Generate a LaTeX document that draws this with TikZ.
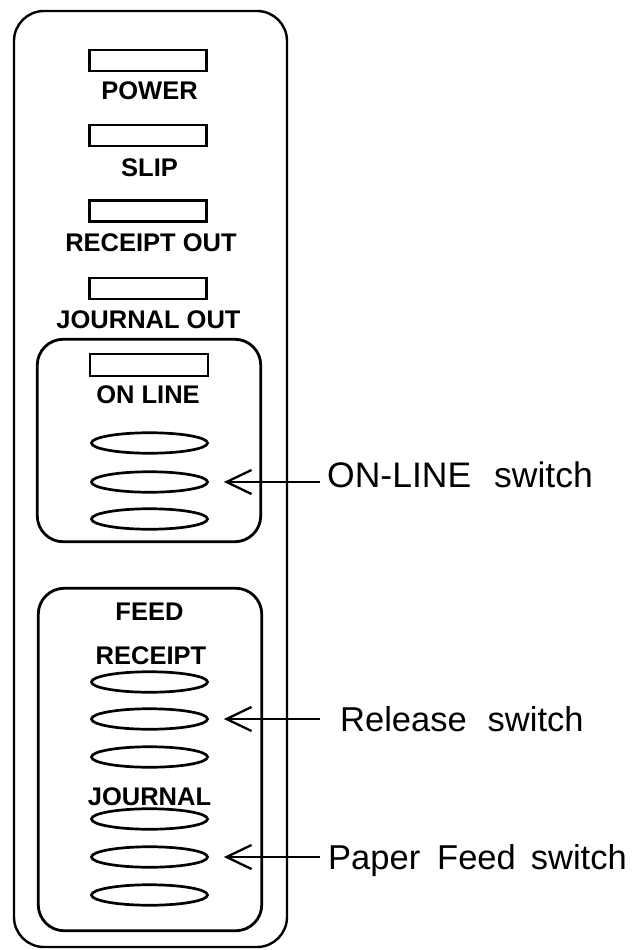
\documentclass[tikz,border=0pt]{standalone}
\usepackage{fontspec}
\setmainfont{Liberation Sans}
\usetikzlibrary{shapes.geometric,arrows.meta}
\begin{document}
\begin{tikzpicture}[x=1pt,y=-1pt,
 panel/.style={draw,line width=2.8pt,rounded corners=26pt,inner sep=0},
 outerpanel/.style={draw,line width=2.4pt,rounded corners=30pt,inner sep=0},
 lamp/.style={draw,line width=2.4pt,minimum width=117pt,minimum height=21pt,inner sep=0},
 key/.style={draw,ellipse,line width=2.7pt,minimum width=116pt,minimum height=20.5pt,inner sep=0},
 lbl/.style={font=\bfseries\fontsize{25.5}{30}\selectfont,inner sep=0},
 call/.style={font=\fontsize{34.5}{40}\selectfont,inner sep=0,anchor=base west},
 ptr/.style={line width=2.1pt,-{Straight Barb[length=25pt,width=24pt,line width=2.3pt]}}
]
\useasboundingbox (0,0) rectangle (633,950);

% outer panel and inner groups
\node[outerpanel,minimum width=273pt,minimum height=936pt] (outer) at (150.5,479) {};
\node[panel,minimum width=223.5pt,minimum height=202.5pt] (grp1) at (149,440.5) {};
\node[panel,minimum width=223.5pt,minimum height=342.5pt] (grp2) at (150,759.5) {};

% lamps and labels
\node[lamp] (l1) at (148,60.5) {};
\node[lbl] (t1) at (149.5,91) {POWER};
\node[lamp] (l2) at (148,135.5) {};
\node[lbl] (t2) at (149.5,168) {SLIP};
\node[lamp] (l3) at (148,211) {};
\node[lbl] (t3) at (151,243) {RECEIPT OUT};
\node[lamp] (l4) at (148,288.5) {};
\node[lbl] (t4) at (148.5,320) {JOURNAL OUT};
\node[lamp,minimum width=118pt,minimum height=22pt] (l5) at (149,365) {};
\node[lbl] (t5) at (148,395) {ON LINE};

% on-line keys
\node[key] (k1) at (149.5,443) {};
\node[key] (k2) at (149.5,482) {};
\node[key] (k3) at (149.5,519) {};

% feed keys
\node[lbl] (t6) at (149.5,612) {FEED};
\node[lbl] (t7) at (151,656) {RECEIPT};
\node[key] (k4) at (149.5,682) {};
\node[key] (k5) at (149.5,719) {};
\node[key] (k6) at (149.5,757) {};
\node[lbl] (t8) at (149.5,797) {JOURNAL};
\node[key] (k7) at (149.5,819) {};
\node[key] (k8) at (149.5,857) {};
\node[key] (k9) at (149.5,895) {};

% callouts
\node[call,font=\fontsize{35.5}{42}\selectfont] (c1) at (327,487) {ON-LINE\hspace{23pt}switch};
\node[call] (c2) at (340,731) {Release\hspace{21pt}switch};
\node[call] (c3) at (328,869) {Paper\hspace{17pt}Feed\hspace{15pt}switch};

\draw[ptr] ([xshift=-7pt]c1.west |- k2.east) -- ([xshift=15pt]k2.east);
\draw[ptr] ([xshift=-20pt]c2.west |- k5.east) -- ([xshift=15pt]k5.east);
\draw[ptr] ([xshift=-8pt]c3.west |- k8.east) -- ([xshift=15pt]k8.east);
\end{tikzpicture}
\end{document}
